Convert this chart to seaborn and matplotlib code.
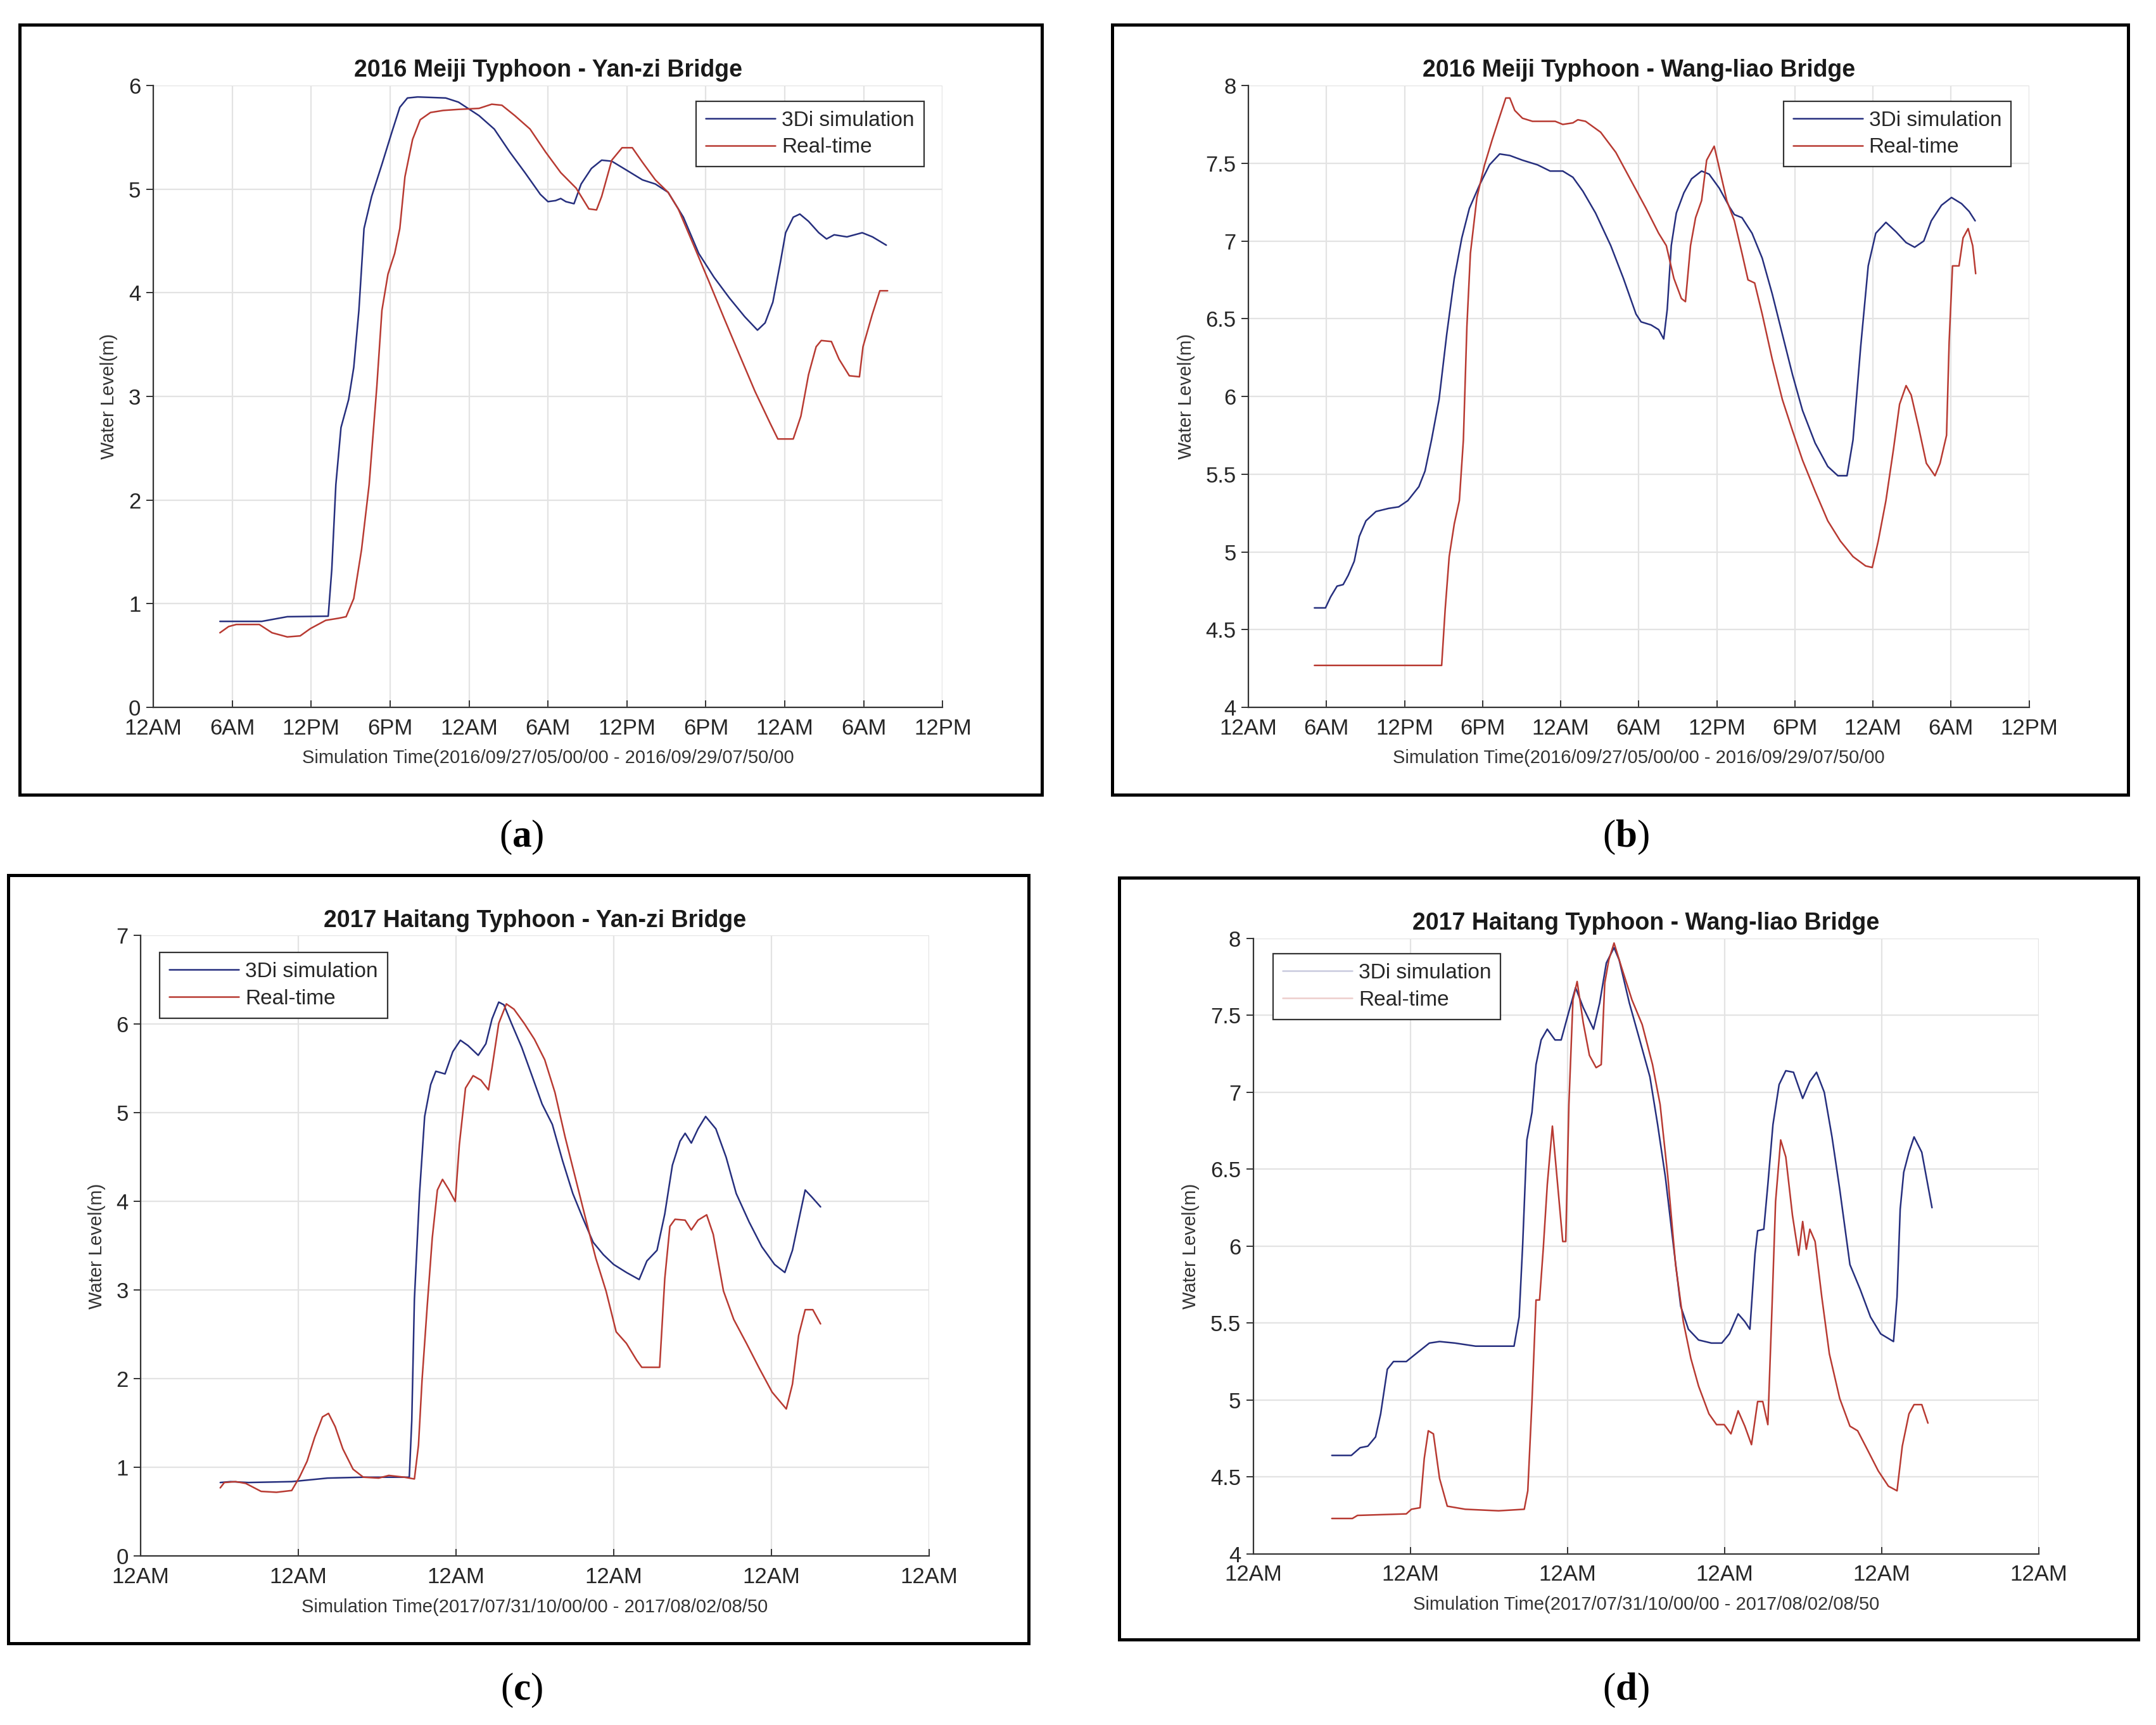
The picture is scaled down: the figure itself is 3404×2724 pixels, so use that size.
import numpy as np
import pandas as pd
import matplotlib
matplotlib.use("Agg")
import matplotlib.pyplot as plt
from matplotlib.patches import Rectangle
import seaborn as sns

# ---- data (hours from the left edge of each x axis, water level in m) ----
# (a) 2016 Meiji - Yan-zi Bridge
a_sim_t = [5.07, 8.25, 10.19, 13.30, 13.57, 13.88, 14.27, 14.85, 15.24, 15.63, 16.02, 16.60, 17.38, 18.16,
           18.74, 19.32, 20.10, 22.23, 23.20, 24.76, 25.92, 27.09, 28.25, 29.42, 30.00, 30.58, 30.97,
           31.36, 31.98, 32.52, 33.30, 34.08, 34.85, 36.02, 37.18, 38.16, 39.13, 40.29, 41.46, 42.62,
           43.79, 44.95, 45.92, 46.50, 47.09, 47.67, 48.06, 48.64, 49.14, 49.80, 50.58, 51.17, 51.75,
           52.72, 53.88, 54.66, 55.71]
a_sim_wl = [0.83, 0.83, 0.875, 0.88, 1.33, 2.15, 2.70, 2.97, 3.28, 3.83, 4.62, 4.93, 5.24, 5.56,
            5.79, 5.88, 5.89, 5.88, 5.84, 5.71, 5.58, 5.36, 5.16, 4.95, 4.88, 4.89, 4.91,
            4.88, 4.86, 5.05, 5.20, 5.28, 5.27, 5.18, 5.09, 5.05, 4.97, 4.73, 4.38, 4.15,
            3.95, 3.77, 3.64, 3.71, 3.91, 4.30, 4.58, 4.73, 4.76, 4.69, 4.58, 4.52, 4.56,
            4.54, 4.58, 4.54, 4.46]
a_real_t = [5.07, 5.73, 6.31, 8.06, 9.03, 10.19, 11.17, 11.94, 13.11, 14.08, 14.66, 15.24, 15.83, 16.41,
            16.99, 17.38, 17.84, 18.35, 18.74, 19.13, 19.71, 20.29, 21.07, 22.04, 23.20, 24.76, 25.73,
            26.50, 27.48, 28.64, 29.81, 30.97, 32.14, 33.11, 33.69, 34.08, 34.85, 35.63, 36.41, 37.18,
            38.16, 39.13, 39.90, 41.07, 42.23, 43.40, 44.56, 45.73, 46.89, 47.47, 48.64, 49.22, 49.80,
            50.38, 50.77, 51.54, 52.12, 52.90, 53.67, 53.94, 54.64, 55.22, 55.81]
a_real_wl = [0.72, 0.78, 0.80, 0.80, 0.72, 0.68, 0.69, 0.76, 0.84, 0.86, 0.875, 1.05, 1.52, 2.15,
             3.09, 3.83, 4.18, 4.38, 4.62, 5.12, 5.48, 5.67, 5.74, 5.76, 5.77, 5.78, 5.82,
             5.81, 5.71, 5.58, 5.36, 5.16, 5.01, 4.81, 4.80, 4.93, 5.28, 5.40, 5.40, 5.26,
             5.09, 4.97, 4.81, 4.46, 4.11, 3.75, 3.40, 3.05, 2.74, 2.59, 2.59, 2.81, 3.21,
             3.48, 3.54, 3.53, 3.36, 3.20, 3.19, 3.48, 3.79, 4.02, 4.02]

# (b) 2016 Meiji - Wang-liao Bridge
b_sim_t = [5.07, 5.92, 6.31, 6.81, 7.28, 7.67, 8.13, 8.52, 9.03, 9.80, 10.77, 11.55, 12.25, 13.10,
           13.57, 14.07, 14.65, 15.24, 15.82, 16.40, 16.98, 17.76, 18.53, 19.31, 20.09, 21.06, 22.22,
           23.19, 24.16, 24.94, 25.71, 26.68, 27.85, 28.82, 29.79, 30.18, 30.95, 31.53, 31.92, 32.19,
           32.50, 32.89, 33.47, 34.06, 34.83, 35.41, 36.19, 36.97, 37.35, 37.94, 38.71, 39.49, 40.26,
           41.04, 41.82, 42.59, 43.56, 44.53, 45.31, 46.01, 46.47, 47.06, 47.64, 48.22, 49.00, 49.77,
           50.55, 51.21, 51.91, 52.49, 53.27, 54.04, 54.82, 55.40, 55.86]
b_sim_wl = [4.64, 4.64, 4.71, 4.78, 4.79, 4.85, 4.94, 5.10, 5.20, 5.26, 5.28, 5.29, 5.33, 5.42,
            5.52, 5.72, 5.98, 6.40, 6.76, 7.02, 7.21, 7.36, 7.49, 7.56, 7.55, 7.52, 7.49,
            7.45, 7.45, 7.41, 7.32, 7.18, 6.97, 6.76, 6.53, 6.48, 6.46, 6.43, 6.37, 6.56,
            6.97, 7.18, 7.31, 7.40, 7.45, 7.43, 7.34, 7.22, 7.17, 7.15, 7.05, 6.89, 6.66,
            6.40, 6.14, 5.91, 5.70, 5.55, 5.49, 5.49, 5.72, 6.32, 6.84, 7.05, 7.12, 7.06,
            6.99, 6.96, 7.00, 7.13, 7.23, 7.28, 7.24, 7.19, 7.13]
b_real_t = [5.07, 14.85, 15.12, 15.43, 15.82, 16.21, 16.52, 16.79, 17.06, 17.56, 18.15, 18.73, 19.31,
            19.78, 20.09, 20.47, 21.06, 21.83, 23.58, 24.16, 24.94, 25.32, 25.91, 27.07, 28.24, 29.40,
            30.56, 31.53, 32.12, 32.70, 33.28, 33.59, 33.98, 34.37, 34.83, 35.22, 35.80, 36.19, 36.77,
            37.35, 37.94, 38.40, 38.91, 39.49, 40.26, 41.04, 41.82, 42.59, 43.56, 44.53, 45.50, 46.47,
            47.44, 47.95, 48.41, 49.00, 49.58, 50.05, 50.55, 50.94, 51.52, 52.11, 52.77, 53.16, 53.66,
            53.86, 54.12, 54.62, 54.93, 55.32, 55.67, 55.90]
b_real_wl = [4.27, 4.27, 4.63, 4.97, 5.18, 5.33, 5.72, 6.45, 6.92, 7.28, 7.49, 7.65, 7.80,
             7.92, 7.92, 7.84, 7.79, 7.77, 7.77, 7.75, 7.76, 7.78, 7.77, 7.70, 7.57, 7.39,
             7.21, 7.05, 6.97, 6.76, 6.63, 6.61, 6.97, 7.15, 7.26, 7.52, 7.61, 7.47, 7.26,
             7.13, 6.92, 6.75, 6.73, 6.53, 6.24, 5.98, 5.78, 5.59, 5.39, 5.20, 5.07, 4.97,
             4.91, 4.90, 5.07, 5.33, 5.66, 5.95, 6.07, 6.01, 5.80, 5.57, 5.49, 5.57, 5.75,
             6.35, 6.84, 6.84, 7.02, 7.08, 6.97, 6.79]

# (c) 2017 Haitang - Yan-zi Bridge
c_sim_t = [6.05, 6.83, 8.19, 11.49, 14.22, 16.94, 20.44, 20.63, 20.83, 21.22, 21.61, 22.07, 22.46, 23.16,
           23.75, 24.33, 24.91, 25.69, 26.27, 26.74, 27.25, 27.64, 28.22, 29.00, 29.78, 30.55, 31.33,
           32.11, 32.89, 33.66, 34.44, 35.22, 36.00, 36.97, 37.94, 38.53, 39.30, 39.89, 40.47, 41.05,
           41.44, 41.91, 42.42, 43.00, 43.78, 44.56, 45.33, 46.31, 47.28, 48.25, 49.03, 49.61, 50.19,
           50.58, 51.09, 51.75]
c_sim_wl = [0.83, 0.84, 0.83, 0.84, 0.88, 0.89, 0.89, 1.53, 2.90, 4.09, 4.96, 5.32, 5.47, 5.44,
            5.69, 5.82, 5.76, 5.65, 5.78, 6.06, 6.25, 6.22, 6.01, 5.74, 5.42, 5.10, 4.87,
            4.46, 4.09, 3.81, 3.54, 3.40, 3.29, 3.20, 3.12, 3.33, 3.45, 3.86, 4.41, 4.68,
            4.77, 4.66, 4.82, 4.96, 4.82, 4.50, 4.09, 3.77, 3.49, 3.29, 3.20, 3.45, 3.86,
            4.13, 4.05, 3.94]
c_real_t = [6.05, 6.36, 7.22, 7.99, 9.16, 10.33, 11.49, 12.08, 12.66, 13.24, 13.83, 14.29, 14.80, 15.38,
            16.16, 16.94, 18.11, 18.88, 20.05, 20.83, 21.14, 21.41, 21.80, 22.19, 22.58, 22.97, 23.47,
            23.94, 24.25, 24.72, 25.30, 25.89, 26.47, 26.74, 27.25, 27.83, 28.41, 29.19, 29.97, 30.75,
            31.53, 32.30, 33.08, 33.86, 34.64, 35.42, 36.19, 36.97, 37.75, 38.14, 39.50, 39.89, 40.28,
            40.67, 41.44, 41.91, 42.42, 43.08, 43.58, 44.36, 45.14, 46.11, 47.08, 48.06, 49.14, 49.61,
            50.08, 50.58, 51.16, 51.75]
c_real_wl = [0.77, 0.83, 0.84, 0.82, 0.73, 0.72, 0.74, 0.89, 1.07, 1.34, 1.57, 1.61, 1.46, 1.21,
             0.98, 0.89, 0.88, 0.91, 0.89, 0.87, 1.25, 1.98, 2.81, 3.59, 4.13, 4.25, 4.13,
             4.00, 4.64, 5.28, 5.42, 5.37, 5.26, 5.51, 6.01, 6.23, 6.17, 6.01, 5.83, 5.60,
             5.23, 4.73, 4.27, 3.81, 3.36, 2.99, 2.53, 2.40, 2.21, 2.13, 2.13, 3.13, 3.72,
             3.80, 3.79, 3.68, 3.79, 3.85, 3.63, 2.99, 2.67, 2.40, 2.12, 1.85, 1.66, 1.94,
             2.49, 2.78, 2.78, 2.62]

# (d) 2017 Haitang - Wang-liao Bridge
d_sim_t = [6.00, 7.49, 8.16, 8.75, 9.34, 9.73, 10.24, 10.71, 11.69, 12.27, 12.86, 13.45, 14.23, 15.41,
           16.98, 18.54, 19.92, 20.31, 20.58, 20.90, 21.29, 21.60, 21.99, 22.46, 23.05, 23.52, 24.03,
           24.62, 25.21, 25.99, 26.46, 26.97, 27.56, 27.95, 28.73, 29.52, 30.30, 30.89, 31.48, 32.06,
           32.65, 33.24, 34.02, 35.00, 35.79, 36.37, 37.04, 37.55, 37.94, 38.33, 38.53, 39.00, 39.31,
           39.70, 40.17, 40.68, 41.27, 41.97, 42.52, 43.03, 43.62, 44.21, 44.80, 45.58, 46.36, 47.15,
           47.93, 48.91, 49.18, 49.42, 49.69, 50.09, 50.48, 51.07, 51.85]
d_sim_wl = [4.64, 4.64, 4.69, 4.70, 4.76, 4.91, 5.20, 5.25, 5.25, 5.29, 5.33, 5.37, 5.38, 5.37,
            5.35, 5.35, 5.35, 5.54, 6.01, 6.69, 6.87, 7.18, 7.34, 7.41, 7.34, 7.34, 7.50,
            7.68, 7.55, 7.41, 7.58, 7.84, 7.94, 7.86, 7.58, 7.34, 7.10, 6.79, 6.45, 6.03,
            5.61, 5.46, 5.39, 5.37, 5.37, 5.43, 5.56, 5.51, 5.46, 5.95, 6.10, 6.11, 6.40,
            6.79, 7.05, 7.14, 7.13, 6.96, 7.07, 7.13, 7.00, 6.71, 6.37, 5.88, 5.72, 5.54,
            5.43, 5.38, 5.67, 6.24, 6.48, 6.61, 6.71, 6.61, 6.25]
d_real_t = [6.00, 7.57, 7.96, 11.69, 12.08, 12.74, 13.06, 13.37, 13.76, 14.23, 14.82, 16.19, 18.74, 20.70,
            20.97, 21.29, 21.60, 21.87, 22.15, 22.46, 22.85, 23.25, 23.64, 23.87, 24.11, 24.42, 24.74,
            25.21, 25.68, 26.19, 26.58, 26.85, 27.16, 27.56, 28.14, 28.93, 29.71, 30.50, 31.08, 31.67,
            32.26, 32.85, 33.43, 34.02, 34.81, 35.39, 35.98, 36.49, 37.04, 37.55, 38.06, 38.53, 38.92,
            39.31, 39.63, 39.90, 40.29, 40.68, 41.19, 41.66, 41.97, 42.25, 42.52, 42.92, 43.43, 44.01,
            44.80, 45.58, 46.17, 46.96, 47.74, 48.52, 49.18, 49.58, 50.09, 50.48, 51.07, 51.54]
d_real_wl = [4.23, 4.23, 4.25, 4.26, 4.29, 4.30, 4.62, 4.80, 4.78, 4.49, 4.31, 4.29, 4.28, 4.29,
             4.41, 4.99, 5.65, 5.65, 5.98, 6.40, 6.78, 6.40, 6.03, 6.03, 6.92, 7.60, 7.72,
             7.45, 7.24, 7.16, 7.18, 7.71, 7.86, 7.97, 7.81, 7.60, 7.44, 7.18, 6.92, 6.45,
             5.88, 5.51, 5.27, 5.09, 4.91, 4.84, 4.84, 4.78, 4.93, 4.83, 4.71, 4.99, 4.99,
             4.84, 5.61, 6.29, 6.69, 6.58, 6.20, 5.94, 6.16, 5.98, 6.11, 6.03, 5.67, 5.30,
             5.01, 4.83, 4.80, 4.67, 4.54, 4.44, 4.41, 4.70, 4.91, 4.97, 4.97, 4.85]

titles = ["2016 Meiji Typhoon - Yan-zi Bridge", "2016 Meiji Typhoon - Wang-liao Bridge",
          "2017 Haitang Typhoon - Yan-zi Bridge", "2017 Haitang Typhoon - Wang-liao Bridge"]
xlabels = ["Simulation Time(2016/09/27/05/00/00 - 2016/09/29/07/50/00",
           "Simulation Time(2016/09/27/05/00/00 - 2016/09/29/07/50/00",
           "Simulation Time(2017/07/31/10/00/00 - 2017/08/02/08/50",
           "Simulation Time(2017/07/31/10/00/00 - 2017/08/02/08/50"]
labels_2016 = ["12AM", "6AM", "12PM", "6PM", "12AM", "6AM", "12PM", "6PM", "12AM", "6AM", "12PM"]
labels_2017 = ["12AM"] * 6
panel_letters = ["a", "b", "c", "d"]

SIM_COLOR = "#262f7e"
REAL_COLOR = "#b83a32"

sns.set_theme(style="whitegrid")
plt.rcParams["font.family"] = ["Liberation Sans", "DejaVu Sans"]
plt.rcParams["mathtext.fontset"] = "custom"
plt.rcParams["mathtext.rm"] = "Liberation Serif"
plt.rcParams["mathtext.bf"] = "Liberation Serif:bold"

fig = plt.figure(figsize=(17.02, 13.62), dpi=200)
W, H = 1562.0, 1250.0


def rect(x0, x1, y0, y1):
    return [x0 / W, 1 - y1 / H, (x1 - x0) / W, (y1 - y0) / H]


axes_rects = [rect(111, 683, 62, 512.6), rect(904.5, 1470, 62, 512.6),
              rect(102, 673, 678, 1127.6), rect(908, 1477, 680, 1126)]
frame_rects = [rect(14, 755, 18, 576), rect(806, 1542, 18, 576),
               rect(6, 745, 634, 1191), rect(811, 1549, 636, 1188)]
letter_pos = [(378, 607), (1178, 607), (378, 1225), (1178, 1225)]

series = [(a_sim_t, a_sim_wl, a_real_t, a_real_wl),
          (b_sim_t, b_sim_wl, b_real_t, b_real_wl),
          (c_sim_t, c_sim_wl, c_real_t, c_real_wl),
          (d_sim_t, d_sim_wl, d_real_t, d_real_wl)]
ylims = [(0, 6), (4, 8), (0, 7), (4, 8)]
ysteps = [1, 0.5, 1, 0.5]
legend_anchor = [("upper right", (0.976, 0.975)), ("upper right", (0.977, 0.975)),
                 ("upper left", (0.024, 0.973)), ("upper left", (0.025, 0.975))]

for i in range(4):
    ax = fig.add_axes(axes_rects[i])
    st, sw, rt, rw = series[i]
    sim = pd.DataFrame({"hour": st, "level": sw})
    real = pd.DataFrame({"hour": rt, "level": rw})
    sns.lineplot(data=sim, x="hour", y="level", ax=ax, color=SIM_COLOR, linewidth=0.9,
                 estimator=None, sort=False, label="3Di simulation")
    sns.lineplot(data=real, x="hour", y="level", ax=ax, color=REAL_COLOR, linewidth=0.9,
                 estimator=None, sort=False, label="Real-time")

    ax.set_xlim(0, 60)
    ax.set_ylim(*ylims[i])
    if i < 2:
        ax.set_xticks(np.arange(0, 61, 6))
        ax.set_xticklabels(labels_2016)
    else:
        ax.set_xticks(np.arange(0, 61, 12))
        ax.set_xticklabels(labels_2017)
    yt = np.arange(ylims[i][0], ylims[i][1] + 0.001, ysteps[i])
    ax.set_yticks(yt)
    ax.set_yticklabels([f"{v:g}" for v in yt])

    ax.set_facecolor("white")
    ax.grid(True, color="#e3e3e3", linewidth=0.8)
    for s in ["top", "right"]:
        ax.spines[s].set_visible(False)
    for s in ["left", "bottom"]:
        ax.spines[s].set_color("#333333")
        ax.spines[s].set_linewidth(0.8)
    ax.tick_params(axis="x", direction="in", length=4, width=0.7, colors="#333333",
                   labelsize=12.5, labelcolor="#262626", bottom=True, pad=6)
    ax.tick_params(axis="y", direction="out", length=4, width=0.7, colors="#333333",
                   labelsize=12.5, labelcolor="#262626", left=True, pad=3)

    ax.set_title(titles[i], fontsize=13.5, fontweight="bold", color="#1a1a1a", pad=5)
    ax.set_xlabel(xlabels[i], fontsize=10.5, color="#333333", labelpad=6)
    ax.set_ylabel("Water Level(m)", fontsize=10.5, color="#333333", labelpad=6)

    loc, anchor = legend_anchor[i]
    leg = ax.legend(loc=loc, bbox_to_anchor=anchor, fontsize=12, frameon=True, fancybox=False,
                    framealpha=1, edgecolor="#333333", handlelength=3.3, borderpad=0.45,
                    labelspacing=0.35, handletextpad=0.3, borderaxespad=0)
    leg.get_frame().set_linewidth(0.8)
    if i == 3:
        for h in leg.get_lines():
            h.set_alpha(0.25)

    fig.add_artist(Rectangle((frame_rects[i][0], frame_rects[i][1]), frame_rects[i][2],
                             frame_rects[i][3], transform=fig.transFigure, fill=False,
                             edgecolor="black", linewidth=1.8))
    lx, ly = letter_pos[i]
    fig.text(lx / W, 1 - ly / H, r"($\mathbf{" + panel_letters[i] + r"}$)", ha="center", va="center",
             fontsize=22, family="Liberation Serif", color="black")

fig.savefig("out.png", dpi=200, facecolor="white")
